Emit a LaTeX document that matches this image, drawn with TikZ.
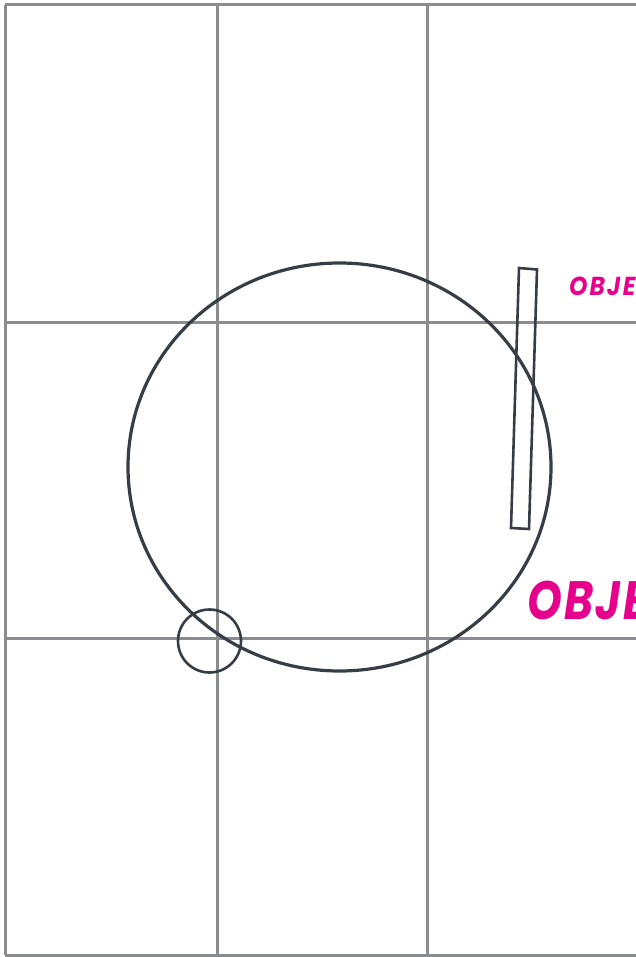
\documentclass[tikz,border=0pt]{standalone}
\usepackage{fontspec}
\newfontfamily\objfont{Poppins}[FakeStretch=0.82, LetterSpace=4]
\newfontfamily\objsmallfont{Poppins}[FakeStretch=0.9, LetterSpace=8]
\usepackage{tikz}
\usepackage{xcolor}
\definecolor{gridgray}{HTML}{8A8C8F}
\definecolor{slate}{HTML}{363D45}
\definecolor{objpink}{HTML}{E6008C}

\begin{document}
\begin{tikzpicture}[
  x=1pt, y=-1pt,
  gridline/.style={draw=gridgray, line width=3pt},
  outline/.style={draw=slate, line width=3.2pt},
  thinline/.style={draw=slate, line width=2.6pt},
  objlabel/.style={text=objpink, anchor=base west, inner sep=0pt}
]
\useasboundingbox (0,0) rectangle (636,957);
\clip (0,0) rectangle (636,957);

% grid of thirds
\draw[gridline] (5,5) -- (660,5);
\draw[gridline] (5,322) -- (660,322);
\draw[gridline] (5,638) -- (660,638);
\draw[gridline] (5,955) -- (660,955);
\draw[gridline] (5,5) -- (5,955);
\draw[gridline] (217,5) -- (217,955);
\draw[gridline] (427,5) -- (427,955);

% subject and marks
\draw[outline] (339.5,467) ellipse [x radius=211.5, y radius=204];
\draw[thinline] (209.5,641) circle [radius=31.5];
\draw[thinline] (519,268) -- (537,269.5) -- (529,529) -- (511,528) -- cycle;

\node[objlabel, font=\objsmallfont\bfseries\itshape\fontsize{26}{26}\selectfont] (objsmall) at (569,295) {OBJE};
\node[objlabel, font=\objfont\bfseries\itshape\fontsize{54}{54}\selectfont] (objlarge) at (527,619) {OBJE};
\end{tikzpicture}
\end{document}
